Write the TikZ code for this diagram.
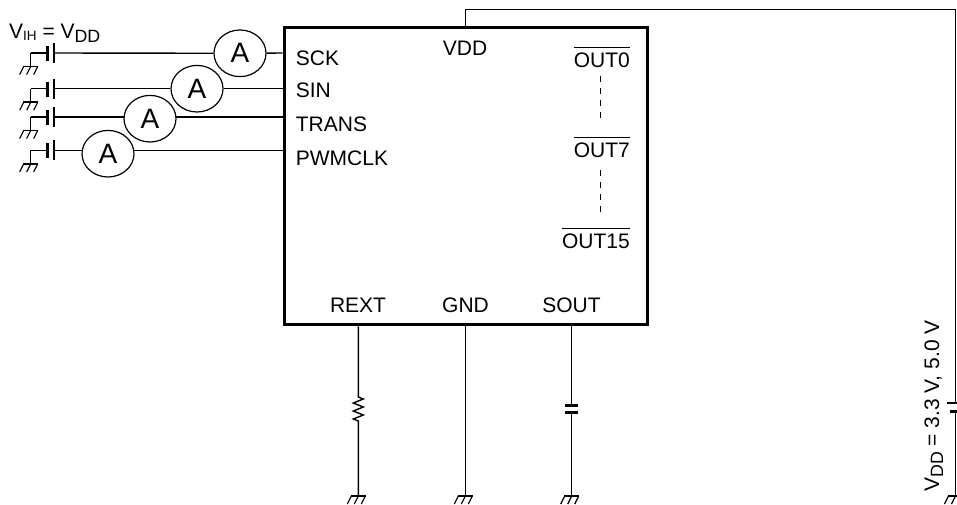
\documentclass[tikz,border=0pt]{standalone}
\usepackage{fontspec}
\setmainfont{Liberation Sans}
\usetikzlibrary{shapes.geometric,backgrounds}
\newcommand{\pinsize}{\fontsize{21}{24}\selectfont}
\newcommand{\outname}[1]{$\overline{\mbox{\rule{0pt}{18.5pt}#1}}$}
\tikzset{
  wire/.style={line width=1.4pt},
  ammeter/.style={ellipse,draw,line width=1.2pt,fill=white,inner sep=0pt,
                  minimum width=52pt,minimum height=46.6pt,
                  font=\fontsize{28}{30}\selectfont},
  pin/.style={anchor=base west,inner sep=0pt,font=\pinsize},
  outpin/.style={anchor=base east,inner sep=0pt,font=\pinsize},
  botpin/.style={anchor=base,inner sep=0pt,font=\pinsize},
  gnd/.pic={
    \draw[line width=1.5pt] (-7.5,0) -- (7.5,0);
    \draw[line width=1.2pt] (-7,0) -- (-11,8) (0,0) -- (-4,8) (7,0) -- (3,8);
  },
  cell/.pic={
    \draw[wire] (0,0) -- (16.5,0) (0,0) -- (0,13.5);
    \draw[line width=2.8pt] (16.5,-7) -- (16.5,8);
    \draw[line width=2.5pt] (23.5,-10) -- (23.5,10);
    \pic at (0,13.5) {gnd};
  }
}
\begin{document}
\begin{tikzpicture}[x=1pt,y=-1pt]
\useasboundingbox (0,0) rectangle (957,504);

\node (chip) [draw,line width=3pt,minimum width=363pt,minimum height=297.5pt] at (465.5,176) {};

\begin{scope}[every node/.style={ammeter}]
    \node (A1) at (240,53.3) {A};
    \node (A2) at (197,88.7) {A};
    \node (A3) at (150,118.7) {A};
    \node (A4) at (108,153.7) {A};
\end{scope}

\node (sck) [pin] at (295.7,65) {SCK};
\node (sin) [pin] at (295.7,97.5) {SIN};
\node (trans) [pin] at (295.7,131.7) {TRANS};
\node (pwmclk) [pin] at (295.7,165) {PWMCLK};
\node (vdd) [botpin] at (465,55) {VDD};
\node (out0) [outpin] at (630,67) {\outname{OUT0}};
\node (out7) [outpin] at (630,157) {\outname{OUT7}};
\node (out15) [outpin] at (630,248) {\outname{OUT15}};
\node (rext) [botpin] at (358,312.5) {REXT};
\node (gnd) [botpin] at (465.5,312.5) {GND};
\node (sout) [botpin] at (571.5,312.5) {SOUT};

\node (vih) [anchor=base west,inner sep=0pt,font=\pinsize] at (9,38)
  {V{\fontsize{13.5}{13}\selectfont\raisebox{-2.7pt}{IH}} = V{\fontsize{17.8}{17}\selectfont\raisebox{-4pt}{DD}}};
\node (vddval) [anchor=base west,inner sep=0pt,rotate=90,font=\pinsize] at (939,492)
  {V{\fontsize{17.8}{17}\selectfont\raisebox{-4pt}{DD}} = 3.3 V, 5.0 V};

% cells and grounds on the left
\coordinate (c1) at (30.7,53);
\coordinate (c2) at (30.7,88.7);
\coordinate (c3) at (30.7,117);
\coordinate (c4) at (30.7,150.3);
\pic at (c1) {cell};
\pic at (c2) {cell};
\pic at (c3) {cell};
\pic at (c4) {cell};
\coordinate (b1) at (54.2,53);
\coordinate (b2) at (54.2,88.7);
\coordinate (b3) at (54.2,117);
\coordinate (b4) at (54.2,150.3);

\begin{scope}[on background layer]
    \draw[wire] (b1) -- (A1) -- (b1 -| chip.west);
    \draw[wire] (b2) -- (A2) -- (b2 -| chip.west);
    \draw[wire] (b3) -- (b3 -| A3) -- (b3 -| chip.west);
    \draw[wire] (b4) -- (b4 -| A4) -- (b4 -| chip.west);
\end{scope}

\draw[line width=1.2pt,dash pattern=on 6pt off 6pt] (600.5,76) -- (600.5,118);
\draw[line width=1.2pt,dash pattern=on 6pt off 6pt] (600.5,170) -- (600.5,212);

% bottom pins
\coordinate (g1) at (358.3,496);
\coordinate (g2) at (465.3,496);
\coordinate (g3) at (571.7,496);
\coordinate (g4) at (955.5,496);
\draw[wire] (g1 |- chip.south) -- (358.3,397) -- ++(5,2) -- ++(-10,4) -- ++(10,4) -- ++(-10,4) -- ++(10,4) -- ++(-10,4) -- ++(5,2) -- (g1);
\draw[wire] (g2 |- chip.south) -- (g2);
\draw[wire] (g3 |- chip.south) -- (571.7,405.3);
\draw[line width=2.5pt] (565,405.3) -- (578.4,405.3);
\draw[line width=2.5pt] (565,412.3) -- (578.4,412.3);
\draw[wire] (571.7,412.3) -- (g3);
\pic at (g1) {gnd};
\pic at (g2) {gnd};
\pic at (g3) {gnd};
\pic at (g4) {gnd};

% supply
\coordinate (vtop) at (955.5,9.5);
\draw[wire] (chip.north) |- (vtop) -- (955.5,403);
\draw[line width=2.8pt] (946.7,403) -- (957,403);
\draw[line width=2.8pt] (950,411.7) -- (957,411.7);
\draw[wire] (955.5,411.7) -- (g4);
\end{tikzpicture}
\end{document}
